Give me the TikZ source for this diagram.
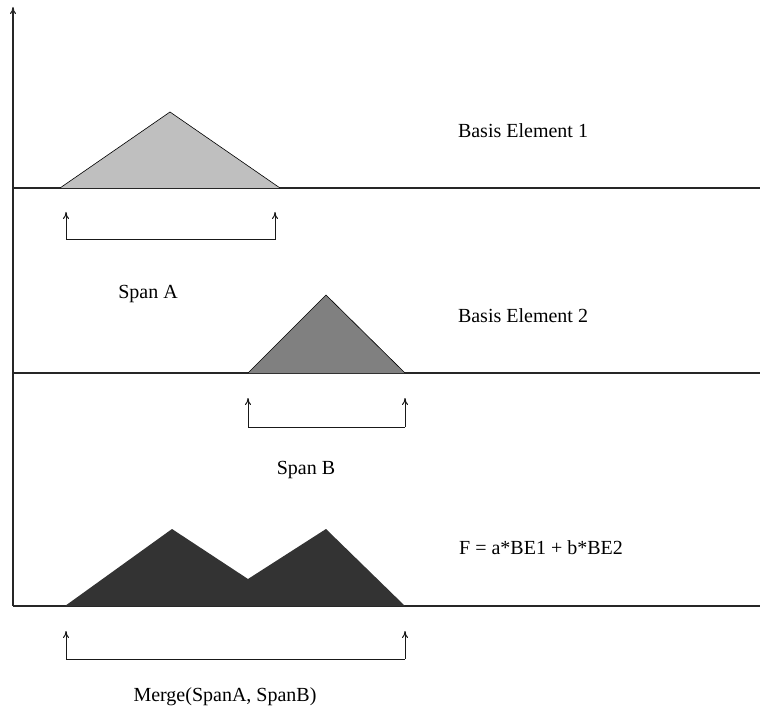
\documentclass[tikz,border=0pt]{standalone}
\usepackage{fontspec}
\setmainfont{Liberation Serif}
\usetikzlibrary{arrows.meta}
\begin{document}
\begin{tikzpicture}[x=1pt,y=-1pt,
  axis/.style={line width=1.1pt,draw=black!85},
  spanline/.style={line width=1pt,draw=black!90},
  uparrow/.style={spanline,-{To[length=7pt,width=6pt]}},
  lbl/.style={font=\fontsize{20}{23}\selectfont,inner sep=0pt}]
\useasboundingbox (0,0) rectangle (760,711);

% axes
\coordinate (o) at (13,606);
\coordinate (top) at (13,7);
\draw[axis,-{To[length=7pt,width=6pt]}] (o) -- (top);
\coordinate (l1a) at (13,188);  \coordinate (l1b) at (760,188);
\coordinate (l2a) at (13,373);  \coordinate (l2b) at (760,373);
\coordinate (l3b) at (760,606);
\draw[axis] (l1a) -- (l1b);
\draw[axis] (l2a) -- (l2b);
\draw[axis] (o) -- (l3b);

% basis elements and their combination
\fill[black!25] (60,188) -- (170,112) -- (280,188) -- cycle;
\draw[line width=0.6pt] (60,188) -- (170,112) -- (280,188);
\fill[black!50] (248,373) -- (326,295) -- (405,373) -- cycle;
\draw[line width=0.6pt] (248,373) -- (326,295) -- (405,373);
\fill[black!80] (65,606) -- (172,529) -- (248,579) -- (326,529) -- (405,606) -- cycle;

% span brackets
\coordinate (a1) at (66,240);  \coordinate (a1t) at (66,212);
\coordinate (a2) at (275,240); \coordinate (a2t) at (275,212);
\draw[spanline] (a1) -- (a2);
\draw[uparrow] (a1) -- (a1t);
\draw[uparrow] (a2) -- (a2t);

\coordinate (b1) at (248,427); \coordinate (b1t) at (248,398);
\coordinate (b2) at (405,427); \coordinate (b2t) at (405,398);
\draw[spanline] (b1) -- (b2);
\draw[uparrow] (b1) -- (b1t);
\draw[uparrow] (b2) -- (b2t);

\coordinate (m1) at (66,659);  \coordinate (m1t) at (66,631);
\coordinate (m2) at (405,659); \coordinate (m2t) at (405,631);
\draw[spanline] (m1) -- (m2);
\draw[uparrow] (m1) -- (m1t);
\draw[uparrow] (m2) -- (m2t);

% labels
\node[lbl] (be1) at (523,131) {Basis Element 1};
\node[lbl] (be2) at (523,316) {Basis Element 2};
\node[lbl] (f)   at (541,548) {F = a*BE1 + b*BE2};
\node[lbl] (sa)  at (148,294) {Span A};
\node[lbl] (sb)  at (306,470) {Span B};
\node[lbl] (mg)  at (225,697) {Merge(SpanA, SpanB)};
\end{tikzpicture}
\end{document}
